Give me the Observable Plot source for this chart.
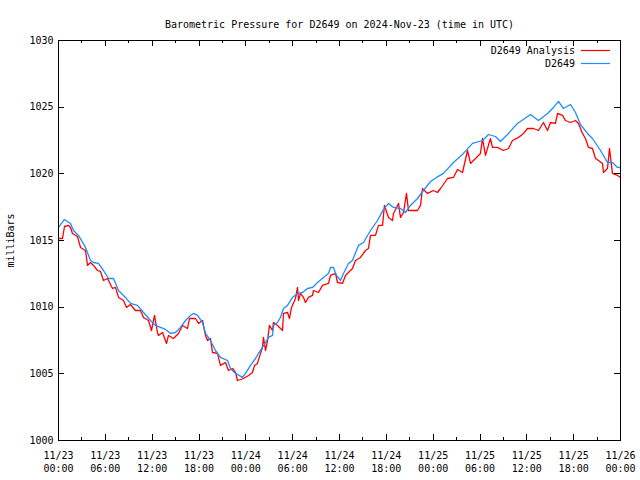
<!DOCTYPE html>
<html>
<head>
<meta charset="utf-8">
<script src="https://cdn.jsdelivr.net/npm/d3@7"></script>
<script src="https://cdn.jsdelivr.net/npm/@observablehq/plot@0.6"></script>
<style>
  html, body { margin: 0; padding: 0; background: #fff; }
</style>
</head>
<body>
<div id="chart"></div>
<script>
const titleText = "Barometric Pressure for D2649 on 2024-Nov-23 (time in UTC)";
const yLabel = "milliBars";
const seriesNames = ["D2649 Analysis", "D2649"];
const seriesColors = ["#ff0000", "#1e8cff"];

// hours since 11/23 00:00 UTC
const xTickHours = [0, 6, 12, 18, 24, 30, 36, 42, 48, 54, 60, 66, 72];
const xTickDates = ["11/23", "11/23", "11/23", "11/23", "11/24", "11/24", "11/24", "11/24", "11/25", "11/25", "11/25", "11/25", "11/26"];
const xTickTimes = ["00:00", "06:00", "12:00", "18:00", "00:00", "06:00", "12:00", "18:00", "00:00", "06:00", "12:00", "18:00", "00:00"];
const xMinorHours = [3, 9, 15, 21, 27, 33, 39, 45, 51, 57, 63, 69];
const yTicks = [1000, 1005, 1010, 1015, 1020, 1025, 1030];

// D2649 (station) observations
const stationHours = [0.00, 0.77, 1.54, 1.92, 2.56, 3.46, 4.10, 4.48, 5.12, 5.76, 6.41, 7.05, 7.69, 8.58, 9.22, 10.12, 10.89, 11.79, 12.43, 13.07, 13.71, 14.35, 14.99, 15.63, 16.27, 16.91, 17.29, 17.81, 18.45, 18.83, 19.47, 20.11, 20.75, 21.65, 22.03, 22.68, 23.57, 23.96, 24.60, 25.24, 25.62, 26.13, 26.52, 26.90, 27.42, 27.54, 28.06, 28.44, 28.82, 29.34, 29.98, 30.62, 31.26, 31.90, 32.54, 33.18, 33.95, 34.59, 34.85, 35.23, 35.61, 36.13, 36.51, 37.15, 37.66, 38.43, 39.07, 39.97, 40.87, 41.64, 42.28, 42.92, 43.81, 44.45, 45.10, 45.99, 46.76, 47.66, 48.43, 49.32, 50.60, 51.88, 53.04, 54.32, 55.09, 55.98, 56.62, 57.65, 58.80, 60.47, 61.49, 62.65, 63.41, 64.05, 64.70, 65.59, 66.23, 66.87, 67.77, 68.41, 69.44, 70.33, 70.97, 71.62, 72.00];
const stationPressure = [1015.98, 1016.58, 1016.28, 1015.75, 1015.38, 1014.48, 1013.50, 1013.35, 1013.28, 1012.75, 1012.15, 1012.15, 1011.25, 1010.73, 1010.28, 1010.13, 1009.60, 1009.00, 1008.63, 1008.48, 1008.33, 1008.03, 1008.10, 1008.48, 1009.00, 1009.38, 1009.53, 1009.38, 1008.85, 1008.03, 1007.50, 1006.75, 1006.23, 1006.00, 1005.40, 1005.03, 1004.73, 1005.03, 1005.63, 1006.15, 1006.53, 1006.98, 1007.35, 1007.73, 1007.88, 1008.63, 1008.85, 1009.23, 1009.90, 1010.13, 1010.73, 1011.03, 1011.10, 1011.40, 1011.48, 1011.85, 1012.23, 1012.53, 1012.98, 1012.98, 1012.38, 1012.00, 1012.53, 1013.28, 1013.50, 1014.63, 1014.85, 1015.75, 1016.50, 1017.33, 1017.78, 1017.48, 1017.40, 1017.10, 1017.63, 1018.15, 1018.75, 1019.43, 1019.73, 1020.03, 1020.85, 1021.53, 1022.28, 1022.50, 1022.95, 1022.80, 1022.43, 1023.03, 1023.78, 1024.45, 1024.00, 1024.53, 1024.98, 1025.43, 1024.90, 1025.20, 1024.60, 1023.70, 1023.03, 1022.65, 1021.75, 1020.85, 1020.85, 1020.48, 1020.48];

// D2649 Analysis
const analysisHours = [0.00, 0.51, 0.77, 1.28, 1.54, 1.79, 2.43, 2.82, 3.46, 3.72, 4.10, 4.48, 5.00, 5.38, 5.76, 6.28, 6.92, 7.30, 7.69, 8.33, 8.71, 9.22, 9.86, 10.50, 10.89, 11.53, 11.91, 12.30, 12.68, 12.81, 13.32, 13.84, 14.09, 14.73, 15.37, 15.89, 16.53, 16.78, 17.55, 17.94, 18.45, 18.83, 19.09, 19.47, 19.73, 20.37, 20.75, 21.39, 21.78, 22.29, 22.68, 22.93, 23.70, 24.34, 24.85, 25.11, 25.49, 25.88, 26.13, 26.26, 26.52, 26.78, 27.03, 27.42, 27.54, 28.06, 28.44, 28.70, 28.82, 29.34, 29.59, 29.85, 30.36, 30.62, 30.75, 31.00, 31.39, 31.64, 32.03, 32.54, 32.67, 33.31, 33.82, 34.59, 34.85, 35.49, 35.74, 36.38, 36.77, 37.15, 37.66, 38.05, 38.69, 39.33, 39.71, 39.97, 40.61, 41.00, 41.51, 41.76, 42.28, 42.79, 42.92, 43.56, 43.81, 44.20, 44.58, 44.84, 45.99, 46.38, 46.63, 47.27, 48.04, 48.55, 48.94, 49.84, 50.60, 51.12, 51.76, 52.40, 52.78, 53.42, 54.06, 54.32, 54.70, 55.34, 55.60, 56.24, 57.01, 57.65, 58.16, 58.93, 59.57, 60.08, 60.85, 61.49, 62.13, 62.65, 63.03, 63.67, 63.93, 64.57, 64.95, 65.59, 66.23, 66.62, 67.13, 67.51, 67.90, 68.41, 68.80, 69.18, 69.69, 69.82, 70.33, 70.59, 70.97, 71.62, 72.00];
const analysisPressure = [1015.15, 1015.15, 1016.05, 1016.13, 1015.98, 1015.53, 1015.30, 1014.48, 1014.25, 1013.13, 1013.35, 1013.13, 1012.75, 1012.68, 1012.00, 1012.15, 1011.40, 1011.48, 1010.73, 1010.50, 1009.98, 1010.20, 1009.75, 1009.75, 1009.23, 1009.00, 1008.25, 1009.38, 1008.10, 1007.88, 1008.10, 1007.28, 1007.88, 1007.65, 1008.03, 1008.63, 1008.40, 1009.15, 1009.15, 1008.78, 1009.00, 1007.88, 1007.50, 1007.65, 1006.60, 1006.53, 1005.63, 1005.85, 1005.25, 1005.40, 1005.10, 1004.50, 1004.65, 1004.88, 1005.10, 1005.63, 1005.78, 1006.53, 1006.98, 1007.73, 1006.75, 1007.50, 1008.63, 1008.25, 1008.85, 1008.63, 1008.40, 1008.25, 1009.53, 1009.60, 1009.15, 1009.98, 1010.65, 1011.48, 1010.50, 1011.03, 1010.73, 1010.35, 1010.73, 1010.88, 1011.25, 1011.10, 1011.63, 1011.78, 1012.38, 1012.53, 1011.85, 1011.78, 1012.38, 1012.60, 1012.90, 1013.50, 1013.73, 1014.25, 1014.40, 1015.38, 1015.38, 1016.13, 1016.13, 1017.63, 1016.73, 1016.50, 1017.03, 1017.78, 1016.73, 1017.10, 1018.53, 1017.25, 1017.25, 1017.63, 1018.90, 1018.53, 1018.75, 1018.60, 1018.90, 1019.65, 1019.73, 1020.33, 1020.10, 1021.75, 1020.78, 1021.15, 1021.53, 1022.65, 1021.38, 1022.65, 1021.98, 1021.98, 1021.75, 1021.90, 1022.50, 1022.73, 1023.03, 1023.40, 1023.40, 1023.25, 1023.85, 1023.25, 1023.85, 1023.78, 1024.53, 1024.38, 1024.00, 1023.85, 1024.00, 1023.78, 1023.03, 1022.65, 1021.98, 1021.90, 1021.15, 1021.00, 1020.78, 1020.10, 1020.40, 1021.90, 1020.03, 1019.88, 1019.73];

const analysis = analysisHours.map((h, i) => ({h, p: analysisPressure[i]}));
const station = stationHours.map((h, i) => ({h, p: stationPressure[i]}));

const FONT = "'DejaVu Sans Mono', 'Liberation Mono', monospace";

function legendMark(index, scales, values, dimensions) {
  const right = dimensions.width - dimensions.marginRight;
  const g = d3.create("svg:g")
    .attr("font-family", FONT)
    .attr("font-size", 10);
  seriesNames.forEach((name, i) => {
    const y = dimensions.marginTop + 10 + i * 13;
    g.append("text")
      .attr("x", right - 45)
      .attr("y", y)
      .attr("dy", "0.35em")
      .attr("text-anchor", "end")
      .attr("fill", "black")
      .text(name);
    g.append("line")
      .attr("x1", right - 39).attr("x2", right - 10)
      .attr("y1", y + 0.5).attr("y2", y + 0.5)
      .attr("stroke", seriesColors[i])
      .attr("stroke-width", 1.2);
  });
  return g.node();
}

const chart = Plot.plot({
  width: 640,
  height: 480,
  marginLeft: 58,
  marginRight: 20,
  marginTop: 40,
  marginBottom: 40,
  style: {fontFamily: FONT, fontSize: "10px", background: "#fff", color: "#000"},
  x: {domain: [0, 72]},
  y: {domain: [1000, 1030]},
  marks: [
    Plot.line(analysis, {x: "h", y: "p", stroke: seriesColors[0], strokeWidth: 1.3}),
    Plot.line(station, {x: "h", y: "p", stroke: seriesColors[1], strokeWidth: 1.3}),
    Plot.tickX(xMinorHours, {x: d => d, insetTop: 397, stroke: "#000", shapeRendering: "crispEdges"}),
    Plot.tickX(xMinorHours, {x: d => d, insetBottom: 397, stroke: "#000", shapeRendering: "crispEdges"}),
    Plot.tickX(xTickHours, {x: d => d, insetTop: 394, stroke: "#000", shapeRendering: "crispEdges"}),
    Plot.tickX(xTickHours, {x: d => d, insetBottom: 394, stroke: "#000", shapeRendering: "crispEdges"}),
    Plot.tickY(yTicks, {y: d => d, insetRight: 556, stroke: "#000", shapeRendering: "crispEdges"}),
    Plot.tickY(yTicks, {y: d => d, insetLeft: 556, stroke: "#000", shapeRendering: "crispEdges"}),
    Plot.frame({stroke: "#000", shapeRendering: "crispEdges"}),
    Plot.axisX({
      ticks: xTickHours,
      tickSize: 0,
      tickPadding: 9,
      lineHeight: 1.3,
      tickFormat: d => {
        const i = xTickHours.indexOf(d);
        return xTickDates[i] + "\n" + xTickTimes[i];
      },
      label: null
    }),
    Plot.axisY({
      ticks: yTicks,
      tickSize: 0,
      tickPadding: 5,
      tickFormat: d => String(d),
      label: yLabel,
      labelAnchor: "center",
      labelArrow: "none",
      labelOffset: 52
    }),
    Plot.text([titleText], {text: d => d, frameAnchor: "top", dy: -20, fill: "#000"}),
    legendMark
  ]
});

document.getElementById("chart").appendChild(chart);
</script>
</body>
</html>
